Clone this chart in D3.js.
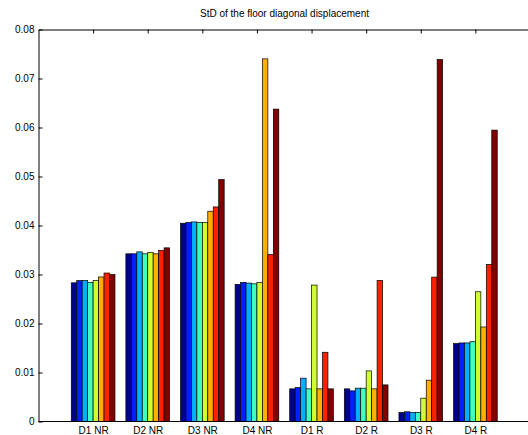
<!DOCTYPE html>
<html><head><meta charset="utf-8">
<script src="https://cdn.jsdelivr.net/npm/d3@7"></script>
<style>body{margin:0;background:#fff}svg{display:block}text{font-family:"Liberation Sans",Arial,sans-serif}</style>
</head><body><svg id="c" width="528" height="435"></svg>
<script>
const title = "StD of the floor diagonal displacement";
const categories = ["D1 NR","D2 NR","D3 NR","D4 NR","D1 R","D2 R","D3 R","D4 R"];
const colors = ["#00008F","#0020FF","#00AFFF","#40FFBF","#CFFF30","#FFAF00","#FF2000","#800000"];
const yTicks = [0,0.01,0.02,0.03,0.04,0.05,0.06,0.07,0.08];
const yTickLabels = ["0","0.01","0.02","0.03","0.04","0.05","0.06","0.07","0.08"];
// values per group, 8 series each
const D1NR = [0.0283,0.02875,0.02875,0.0284,0.02875,0.0295,0.0303,0.0300];
const D2NR = [0.03422,0.03422,0.03462,0.03422,0.0345,0.03422,0.0349,0.03544];
const D3NR = [0.04046,0.0406,0.04073,0.0406,0.0406,0.04291,0.04379,0.04937];
const D4NR = [0.02798,0.02839,0.02825,0.0281,0.02839,0.07401,0.03409,0.06375];
const D1R  = [0.00666,0.00692,0.00884,0.00666,0.02784,0.00666,0.01413,0.00666];
const D2R  = [0.00666,0.00625,0.0068,0.0068,0.01033,0.00666,0.0288,0.00747];
const D3R  = [0.00183,0.00198,0.00183,0.00183,0.00476,0.00843,0.02947,0.07387];
const D4R  = [0.01589,0.01603,0.01603,0.01629,0.02648,0.01929,0.03206,0.05947];
const groups = [D1NR,D2NR,D3NR,D4NR,D1R,D2R,D3R,D4R];

const svg = d3.select("#c");
const x = d3.scaleLinear().domain([0,9]).range([38.5,530]);
const y = d3.scaleLinear().domain([0,0.08]).range([421.5,29.5]);
const nS = colors.length, gw = 0.8, bw = gw/nS;

svg.append("text").attr("x",284.5).attr("y",16.5).attr("text-anchor","middle")
  .attr("font-size",10).text(title);

// bottom axis (under bars)
const bottomAx = svg.append("g").attr("transform",`translate(0,${y(0)})`)
  .call(d3.axisBottom(x).tickValues(d3.range(1,9)).tickFormat((d,i)=>categories[i]).tickSize(-4).tickPadding(5));
bottomAx.selectAll("text").attr("font-size",10).attr("fill","#000").attr("font-family","Liberation Sans, Arial, sans-serif");
bottomAx.selectAll("line").attr("stroke","#000");
bottomAx.select(".domain").remove();

// bars
groups.forEach((vals,gi)=>{
  svg.append("g").selectAll("rect").data(vals).join("rect")
    .attr("x",(d,j)=>x(gi+1-gw/2+j*bw))
    .attr("width",x(bw)-x(0))
    .attr("y",d=>y(d))
    .attr("height",d=>y(0)-y(d))
    .attr("fill",(d,j)=>colors[j])
    .attr("stroke","#000").attr("stroke-width",0.7);
});

// top axis
const topAx = svg.append("g").attr("transform",`translate(0,${y(0.08)})`)
  .call(d3.axisTop(x).tickValues(d3.range(1,9)).tickFormat("").tickSize(-4).tickSizeOuter(0));
topAx.selectAll("line").attr("stroke","#000");
topAx.select(".domain").attr("stroke","#000");

// left axis
const leftAx = svg.append("g").attr("transform",`translate(${x(0)},0)`)
  .call(d3.axisLeft(y).tickValues(yTicks).tickFormat((d,i)=>yTickLabels[i]).tickSize(-4).tickSizeOuter(0).tickPadding(4));
leftAx.selectAll("text").attr("font-size",10).attr("fill","#000").attr("font-family","Liberation Sans, Arial, sans-serif");
leftAx.selectAll("line").attr("stroke","#000");
leftAx.select(".domain").attr("stroke","#000");

// bottom line on top
svg.append("line").attr("x1",x(0)).attr("x2",x(9)).attr("y1",y(0)).attr("y2",y(0)).attr("stroke","#000");
</script></body></html>
